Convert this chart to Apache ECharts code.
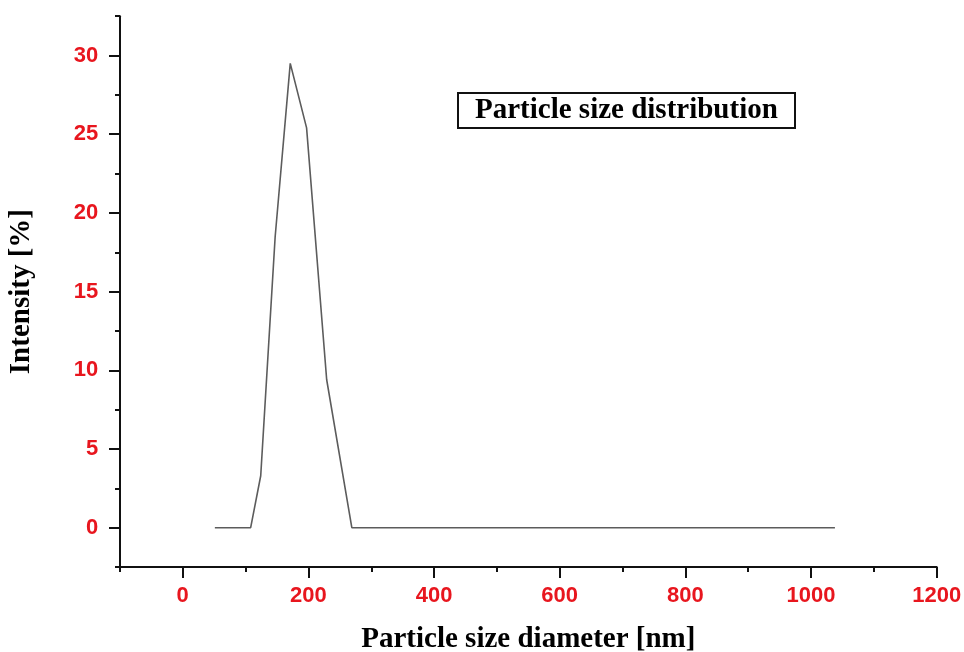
<!DOCTYPE html>
<html>
<head>
<meta charset="utf-8">
<title>Particle size distribution</title>
<script src="https://cdn.jsdelivr.net/npm/echarts@6/dist/echarts.min.js"></script>
<style>
  html, body { margin: 0; padding: 0; background: #ffffff; }
  #chart { width: 964px; height: 652px; }
</style>
</head>
<body>
<div id="chart"></div>
<script>
// Measured distribution: hydrodynamic diameter (nm) vs. intensity (%)
const diameters = [51, 108, 124, 147, 171, 197, 229, 269, 1038];
const intensities = [0, 0, 3.3, 18.5, 29.5, 25.4, 9.4, 0, 0];

// Tick labels shown on the axes
const xTickLabels = ['0', '200', '400', '600', '800', '1000', '1200'];
const yTickLabels = ['0', '5', '10', '15', '20', '25', '30'];

const chartTitle = 'Particle size distribution';
const xTitle = 'Particle size diameter [nm]';
const yTitle = 'Intensity [%]';

const AXIS_BLACK = '#111111';
const LABEL_RED = '#e8161e';
const serif = "'Liberation Serif', 'Times New Roman', serif";
const sans = "'Liberation Sans', Arial, sans-serif";

const points = diameters.map((d, i) => [d, intensities[i]]);

const chart = echarts.init(document.getElementById('chart'), null, { renderer: 'canvas' });

const majorLabel = (list) => ({
  show: true,
  color: LABEL_RED,
  fontFamily: sans,
  fontWeight: 'bold',
  fontSize: 22,
  formatter: (v) => (list.indexOf(String(v)) >= 0 ? String(v) : '')
});

// the labelled axes keep their line invisible: only ticks and labels show
const hiddenLine = { show: true, onZero: false, lineStyle: { color: '#000000', opacity: 0, width: 0 } };
const majorTick = { show: true, inside: false, length: 11, lineStyle: { color: AXIS_BLACK, width: 2 } };
const minorTick = { show: true, inside: false, length: 5, lineStyle: { color: AXIS_BLACK, width: 2 } };
const axisTitleStyle = { fontFamily: serif, fontWeight: 'bold', fontSize: 29, color: '#000000' };

chart.setOption({
  backgroundColor: '#ffffff',
  animation: false,
  title: {
    text: chartTitle,
    left: 458,
    top: 93,
    padding: [3, 17],
    borderColor: AXIS_BLACK,
    borderWidth: 2,
    textStyle: {
      fontFamily: serif,
      fontWeight: 'bold',
      fontSize: 29,
      lineHeight: 29,
      color: '#000000'
    }
  },
  grid: [
    // plotting frame (full axis extent, minor ticks)
    { left: 120, right: 27.3, top: 16.15, bottom: 84.95, containLabel: false, outerBoundsMode: 'none' },
    // frame carrying the labelled major ticks
    { left: 182.7, right: 27.3, top: 55.5, bottom: 124.3, containLabel: false, outerBoundsMode: 'none' }
  ],
  xAxis: [
    {
      gridIndex: 0,
      type: 'value',
      min: -100,
      max: 1200,
      interval: 100,
      name: xTitle,
      nameLocation: 'middle',
      nameGap: 58,
      nameTextStyle: axisTitleStyle,
      axisLine: { show: true, onZero: false, lineStyle: { color: AXIS_BLACK, width: 2 } },
      axisTick: minorTick,
      axisLabel: { show: false },
      splitLine: { show: false }
    },
    {
      gridIndex: 1,
      type: 'value',
      min: 0,
      max: 1200,
      interval: 200,
      position: 'bottom',
      offset: 39.35,
      axisLine: hiddenLine,
      axisTick: majorTick,
      axisLabel: Object.assign(majorLabel(xTickLabels), { margin: 18 }),
      splitLine: { show: false }
    }
  ],
  yAxis: [
    {
      gridIndex: 0,
      type: 'value',
      min: -2.5,
      max: 32.5,
      interval: 2.5,
      name: yTitle,
      nameLocation: 'middle',
      nameGap: 84,
      nameTextStyle: axisTitleStyle,
      axisLine: { show: true, onZero: false, lineStyle: { color: AXIS_BLACK, width: 2 } },
      axisTick: minorTick,
      axisLabel: { show: false },
      splitLine: { show: false }
    },
    {
      gridIndex: 1,
      type: 'value',
      min: 0,
      max: 30,
      interval: 5,
      position: 'left',
      offset: 62.7,
      axisLine: hiddenLine,
      axisTick: majorTick,
      axisLabel: Object.assign(majorLabel(yTickLabels), { margin: 21.7 }),
      splitLine: { show: false }
    }
  ],
  series: [
    {
      type: 'line',
      xAxisIndex: 0,
      yAxisIndex: 0,
      data: points,
      showSymbol: false,
      symbol: 'none',
      lineStyle: { color: '#5c5c5c', width: 1.6 },
      silent: true
    }
  ]
});
</script>
</body>
</html>
